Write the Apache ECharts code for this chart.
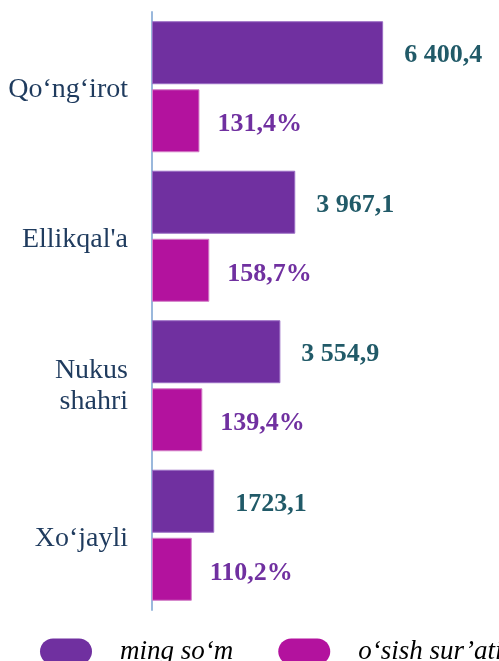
<!DOCTYPE html>
<html>
<head>
<meta charset="utf-8">
<script src="https://cdn.jsdelivr.net/npm/echarts@6/dist/echarts.min.js"></script>
<style>
  html, body { margin: 0; padding: 0; background: #fff; }
  #chart { width: 499px; height: 661px; }
</style>
</head>
<body>
<div id="chart"></div>
<script>
var categories = ['Qo‘ng‘irot', "Ellikqal'a", 'Nukus\nshahri', 'Xo‘jayli'];
var amount = [6400.4, 3967.1, 3554.9, 1723.1];
var amountLabels = ['6 400,4', '3 967,1', '3 554,9', '1723,1'];
var growth = [131.4, 158.7, 139.4, 110.2];
var growthLabels = ['131,4%', '158,7%', '139,4%', '110,2%'];
var seriesNames = ['ming so‘m', 'o‘sish sur’ati'];

var pill = 'path://M13,0 H39 A13,13 0 0 1 39,26 H13 A13,13 0 0 1 13,0 Z';
var serif = '"Liberation Serif", "Times New Roman", serif';
var catFont = {fontFamily: serif, fontSize: 28, lineHeight: 32, color: '#1f3b5e'};

var myChart = echarts.init(document.getElementById('chart'));

option = {
    animation: false,
    legend: {
        left: 40,
        top: 638,
        width: 600,
        padding: 0,
        itemWidth: 52,
        itemHeight: 26,
        itemGap: 45,
        selectedMode: false,
        itemStyle: {borderWidth: 0},
        textStyle: {
            fontFamily: serif,
            fontStyle: 'italic',
            fontSize: 27,
            color: '#000',
            padding: [0, 0, 0, 23]
        },
        data: [
            {name: seriesNames[0], icon: pill},
            {name: seriesNames[1], icon: pill}
        ]
    },
    grid: {left: 152, right: 22, top: 12, bottom: 51},
    xAxis: [
        {type: 'value', min: 0, max: 9000, show: false},
        {type: 'value', min: 0, max: 900, show: false}
    ],
    yAxis: {
        type: 'category',
        inverse: true,
        data: categories,
        axisLine: {lineStyle: {color: '#9ab8dc', width: 2}},
        axisTick: {show: false},
        axisLabel: {
            margin: 24,
            fontFamily: serif,
            fontSize: 28,
            lineHeight: 32,
            color: '#1f3b5e',
            // первая строка с отступом сверху, чтобы сдвинуть подпись вниз
            formatter: function (v) {
                var lines = v.split('\n');
                return lines.map(function (l, i) {
                    return (i === 0 ? '{a|' : '{b|') + l + '}';
                }).join('\n');
            },
            rich: {
                a: Object.assign({}, catFont, {padding: [6, 0, 0, 0]}),
                b: Object.assign({}, catFont, {lineHeight: 36})
            }
        }
    },
    series: [
        {
            name: seriesNames[0],
            type: 'bar',
            xAxisIndex: 0,
            data: amount,
            barWidth: 63,
            barGap: '8%',
            itemStyle: {color: '#7030a0', borderColor: '#9a6cc4', borderWidth: 1},
            label: {
                show: true,
                position: 'right',
                distance: 21,
                offset: [0, 3],
                fontFamily: serif,
                fontWeight: 'bold',
                fontSize: 26,
                color: '#215a68',
                formatter: function (p) { return amountLabels[p.dataIndex]; }
            }
        },
        {
            name: seriesNames[1],
            type: 'bar',
            xAxisIndex: 1,
            data: growth,
            barWidth: 63,
            barGap: '8%',
            itemStyle: {color: '#b3129e', borderColor: '#d27cc6', borderWidth: 1},
            label: {
                show: true,
                position: 'right',
                distance: 18,
                offset: [0, 4],
                fontFamily: serif,
                fontWeight: 'bold',
                fontSize: 26,
                color: '#7030a0',
                formatter: function (p) { return growthLabels[p.dataIndex]; }
            }
        }
    ]
};
myChart.setOption(option);
</script>
</body>
</html>
